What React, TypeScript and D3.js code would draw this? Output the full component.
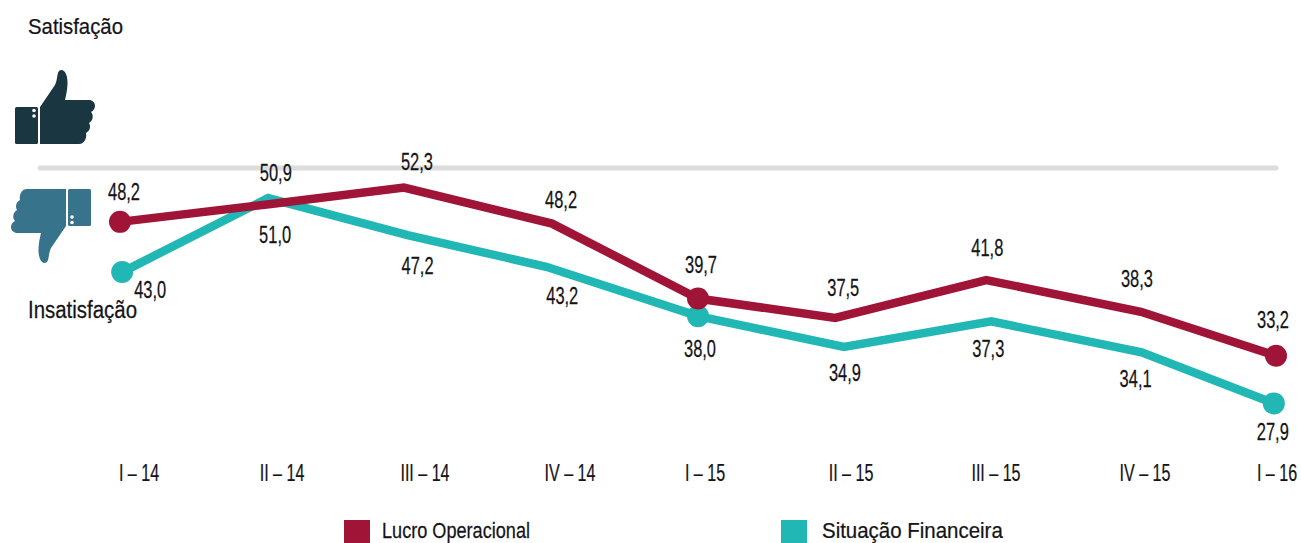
import React from "react";
import * as d3 from "d3";

const periods = ["I – 14", "II – 14", "III – 14", "IV – 14", "I – 15", "II – 15", "III – 15", "IV – 15", "I – 16"];

// Plotted heights and horizontal placement
const lucroValues = [48.4, 50.4, 52.3, 48.2, 39.7, 37.5, 41.8, 38.2, 33.2];
const lucroPlace = [0, 1.03, 1.965, 2.99, 4, 4.95, 5.995, 7.065, 8];
const lucroLabels = ["48,2", "50,9", "52,3", "48,2", "39,7", "37,5", "41,8", "38,3", "33,2"];

const situacaoValues = [42.7, 51.1, 46.9, 43.3, 37.7, 34.2, 37.1, 33.6, 27.8];
const situacaoPlace = [0.015, 1.025, 1.99, 2.95, 4, 5.01, 6.03, 7.07, 7.985];
const situacaoLabels = ["43,0", "51,0", "47,2", "43,2", "38,0", "34,9", "37,3", "34,1", "27,9"];

const neutralLevel = 54.5;

const RED = "#a01537";
const TEAL = "#21b7b5";
const FONT = "'Liberation Sans', sans-serif";

const x = d3.scaleLinear().domain([0, 8]).range([120, 1276]);
const y = d3.scaleLinear().domain([27.9, 52.3]).range([402.5, 187.5]);

const lucroOffsets: [number, number][] = [[4, -22], [7, -23], [13, -18], [9, -16], [3, -26], [8, -22], [1, -24], [-4, -25], [-3, -28]];
const situacaoOffsets: [number, number][] = [[28, 26], [7, 45], [10, 39], [16, 37], [2, 41], [1, 34], [-3, 36], [-6, 35], [-1, 37]];
const tickCentres = [139, 282, 425, 570, 705, 851, 996, 1145, 1277];

const HAND = "M40 107 L55 85 C57 81 57 76 58 73 C59 69 64 69 66 74 C69 81 67 92 65 100 L90 100 C96 101 97 109 91 112 C94 115 93 121 89 123 C91 126 90 131 86 133 C87 137 85 144 79 144 L40 144 Z";

function Thumb({ color, flip }: { color: string; flip?: boolean }) {
  return (
    <g transform={flip ? "translate(106 333) rotate(180)" : undefined} fill={color}>
      <path d={HAND} />
      <rect x={15} y={107} width={23} height={37} rx={1.5} />
      <circle cx={34} cy={110.5} r={1.8} fill="#fff" />
      <circle cx={34} cy={116} r={1.8} fill="#fff" />
    </g>
  );
}

const T = (p: { x: number; y: number; sx: number; s?: number; start?: boolean; children: string }) => (
  <text
    transform={`translate(${p.x} ${p.y}) scale(${p.sx} 1)`}
    fontFamily={FONT}
    fontSize={p.s ?? 24}
    fill="#141418"
    stroke="#141418"
    strokeWidth={0.25}
    textAnchor={p.start ? "start" : "middle"}
  >
    {p.children}
  </text>
);

function Series({ values, place, labels, offsets, color }: { values: number[]; place: number[]; labels: string[]; offsets: [number, number][]; color: string }) {
  const pts = values.map((v, i): [number, number] => [x(place[i]), y(v)]);
  const line = d3.line();
  const ends = [pts[0], pts[4], pts[8]];
  return (
    <g>
      <path d={line(pts) ?? ""} fill="none" stroke={color} strokeWidth={8.5} strokeLinejoin="miter" />
      {ends.map((p, i) => <circle key={i} cx={p[0]} cy={p[1]} r={11} fill={color} />)}
      {labels.map((l, i) => (
        <T key={i} x={pts[i][0] + offsets[i][0]} y={pts[i][1] + offsets[i][1]} sx={0.685}>{l}</T>
      ))}
    </g>
  );
}

export default function App() {
  return (
    <svg width={1301} height={543} style={{ position: "absolute", left: 0, top: 0, background: "#fff" }}>
      <line x1={40} x2={1276} y1={y(neutralLevel)} y2={y(neutralLevel)} stroke="#dcdcdc" strokeWidth={5} strokeLinecap="round" />
      <Thumb color="#1a3641" />
      <Thumb color="#37748c" flip />
      <T x={28} y={34} sx={0.885} s={23} start>Satisfação</T>
      <T x={28} y={318} sx={0.888} s={23} start>Insatisfação</T>
      <Series values={situacaoValues} place={situacaoPlace} labels={situacaoLabels} offsets={situacaoOffsets} color={TEAL} />
      <Series values={lucroValues} place={lucroPlace} labels={lucroLabels} offsets={lucroOffsets} color={RED} />
      {periods.map((p, i) => (
        <T key={p} x={tickCentres[i]} y={481} sx={0.67}>{p}</T>
      ))}
      <rect x={344} y={520} width={26} height={23} fill={RED} />
      <T x={382} y={538} sx={0.824} s={22} start>Lucro Operacional</T>
      <rect x={781} y={520} width={26} height={23} fill={TEAL} />
      <T x={822} y={538} sx={0.93} s={22} start>Situação Financeira</T>
    </svg>
  );
}
